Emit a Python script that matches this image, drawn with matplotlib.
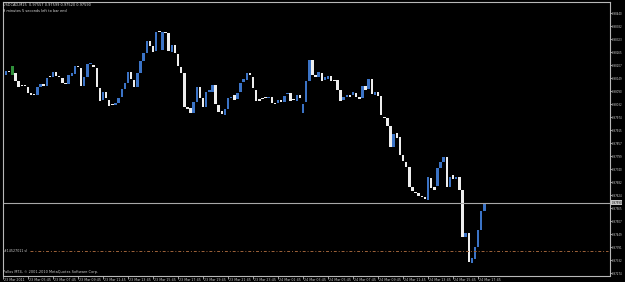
import matplotlib
matplotlib.use("Agg")
import matplotlib.pyplot as plt
import matplotlib.transforms as mtransforms
import numpy as np

# ---- data (USDCAD, M15 candles: open / close) ----
opens = [0.98173, 0.98164, 0.98182, 0.98164, 0.98173, 0.98137, 0.98114, 0.98114, 0.98110, 0.98083,
         0.98078, 0.98074, 0.98110, 0.98123, 0.98114, 0.98155, 0.98155, 0.98177, 0.98155, 0.98150,
         0.98128, 0.98123, 0.98159, 0.98168, 0.98204, 0.98195, 0.98114, 0.98155, 0.98213, 0.98208,
         0.98195, 0.98105, 0.98052, 0.98087, 0.98052, 0.98029, 0.98029, 0.98038, 0.98065, 0.98101,
         0.98128, 0.98177, 0.98141, 0.98110, 0.98173, 0.98226, 0.98262, 0.98316, 0.98294, 0.98271,
         0.98356, 0.98276, 0.98356, 0.98352, 0.98267, 0.98298, 0.98258, 0.98199, 0.98173, 0.98020,
         0.98016, 0.97993, 0.98043, 0.98110, 0.98060, 0.98020, 0.98087, 0.98087, 0.98119, 0.98029,
         0.98002, 0.97984, 0.98011, 0.98060, 0.98074, 0.98056, 0.98087, 0.98132, 0.98141, 0.98173,
         0.98155, 0.98096, 0.98056, 0.98056, 0.98060, 0.98060, 0.98065, 0.98038, 0.98038, 0.98052,
         0.98043, 0.98078, 0.98083, 0.98052, 0.98047, 0.98074, 0.97993, 0.98043, 0.98137, 0.98231,
         0.98164, 0.98155, 0.98173, 0.98141, 0.98146, 0.98159, 0.98141, 0.98141, 0.98096, 0.98052,
         0.98065, 0.98074, 0.98074, 0.98083, 0.98065, 0.98060, 0.98114, 0.98101, 0.98146, 0.98074,
         0.98087, 0.98069, 0.97975, 0.97971, 0.97935, 0.97841, 0.97904, 0.97886, 0.97805, 0.97773,
         0.97751, 0.97661, 0.97639, 0.97634, 0.97621, 0.97616, 0.97603, 0.97702, 0.97661, 0.97666,
         0.97747, 0.97773, 0.97796, 0.97661, 0.97715, 0.97697, 0.97706, 0.97648, 0.97437, 0.97455,
         0.97320, 0.97338, 0.97392, 0.97468, 0.97554]
closes = [0.98155, 0.98182, 0.98177, 0.98204, 0.98137, 0.98110, 0.98114, 0.98114, 0.98083, 0.98074,
          0.98074, 0.98110, 0.98123, 0.98114, 0.98150, 0.98155, 0.98177, 0.98159, 0.98155, 0.98128,
          0.98123, 0.98164, 0.98173, 0.98204, 0.98199, 0.98114, 0.98155, 0.98213, 0.98217, 0.98199,
          0.98110, 0.98047, 0.98087, 0.98060, 0.98025, 0.98029, 0.98038, 0.98060, 0.98101, 0.98128,
          0.98177, 0.98146, 0.98110, 0.98173, 0.98226, 0.98262, 0.98316, 0.98294, 0.98267, 0.98356,
          0.98356, 0.98356, 0.98352, 0.98271, 0.98298, 0.98262, 0.98204, 0.98173, 0.98020, 0.98011,
          0.97993, 0.98043, 0.98110, 0.98060, 0.98020, 0.98087, 0.98096, 0.98119, 0.98034, 0.97998,
          0.97989, 0.98011, 0.98060, 0.98065, 0.98052, 0.98083, 0.98128, 0.98146, 0.98173, 0.98164,
          0.98105, 0.98047, 0.98047, 0.98056, 0.98060, 0.98065, 0.98038, 0.98034, 0.98052, 0.98043,
          0.98069, 0.98083, 0.98047, 0.98052, 0.98074, 0.98060, 0.98034, 0.98137, 0.98231, 0.98164,
          0.98155, 0.98177, 0.98137, 0.98155, 0.98159, 0.98137, 0.98137, 0.98096, 0.98047, 0.98065,
          0.98074, 0.98065, 0.98087, 0.98065, 0.98056, 0.98114, 0.98096, 0.98146, 0.98078, 0.98087,
          0.98069, 0.97984, 0.97971, 0.97935, 0.97841, 0.97899, 0.97881, 0.97805, 0.97778, 0.97751,
          0.97661, 0.97643, 0.97634, 0.97621, 0.97616, 0.97607, 0.97706, 0.97657, 0.97648, 0.97747,
          0.97773, 0.97796, 0.97661, 0.97706, 0.97697, 0.97706, 0.97648, 0.97437, 0.97455, 0.97325,
          0.97343, 0.97392, 0.97468, 0.97554, 0.97590]
highlight_bar = 3  # green bar near the start

time_labels = ["23 Mar 2011", "23 Mar 05:45", "23 Mar 07:45", "23 Mar 09:45", "23 Mar 11:45",
               "23 Mar 13:45", "23 Mar 15:45", "23 Mar 17:45", "23 Mar 19:45", "23 Mar 21:45",
               "23 Mar 23:45", "24 Mar 01:45", "24 Mar 03:45", "24 Mar 05:45", "24 Mar 07:45",
               "24 Mar 09:45", "24 Mar 11:45", "24 Mar 13:45", "24 Mar 15:45", "24 Mar 17:45"]
time_tick_bars = list(range(0, 160, 8))

price_ticks = [0.98440, 0.98382, 0.98323, 0.98265, 0.98207, 0.98149, 0.98090, 0.98032, 0.97974,
               0.97915, 0.97857, 0.97799, 0.97740, 0.97682, 0.97624, 0.97565, 0.97507, 0.97449,
               0.97391, 0.97332, 0.97274]

bid_price = 0.97590
sl_price = 0.97371
sl_label = "#14527011 sl"
title_line1 = "USDCAD,M15  0.97557 0.97599 0.97520 0.97590"
title_line2 = "9 minutes 5 seconds left to bar end"
copyright_text = "Pallos MT4, \u00a9 2001-2010 MetaQuotes Software Corp."

# ---- figure ----
W, H = 625, 282
FS = 2.3
FSY = 1.9
fig = plt.figure(figsize=(W / 100, H / 100), dpi=100, facecolor="black")
ax = fig.add_axes([3 / W, 6.5 / H, 607 / W, 273.5 / H], facecolor="black")

BLUE = "#3b73c6"
WHITE = "#eeeeee"
GREEN = "#2f8f3a"
FRAME = "#b8b8b8"

o = np.array(opens)
c = np.array(closes)
x = np.arange(len(o))
bottom = np.minimum(o, c)
height = np.maximum(np.abs(c - o), 0.00005)
colors = [BLUE if cc > oo else WHITE for oo, cc in zip(o, c)]
colors[highlight_bar] = GREEN
ax.bar(x, height, bottom=bottom, width=0.78, color=colors, linewidth=0)

ax.set_xlim(0.32, 194.2)
ax.set_ylim(0.972631, 0.984906)

# bid line
ax.axhline(bid_price, color="#a8a8a8", lw=0.8)
trans = mtransforms.blended_transform_factory(ax.transAxes, ax.transData)
ax.text(1.0025, bid_price, f"{bid_price:.5f}", transform=trans, fontsize=FSY, color="black",
        va="center", ha="left", clip_on=False,
        bbox=dict(boxstyle="square,pad=0.12", fc="#c8c8c8", ec="#c8c8c8", lw=0))

# stop-loss line
ax.axhline(sl_price, xmin=27 / 607, xmax=0.997, color="#a0643a", lw=0.7, ls=(0, (3, 2, 1, 2)))
ax.text(0.002, sl_price + 0.00003, sl_label, transform=trans, fontsize=FS, color="#d0d0d0",
        va="center", ha="left")

# axes styling
for s in ax.spines.values():
    s.set_color(FRAME)
    s.set_linewidth(0.8)

ax.yaxis.tick_right()
ax.set_yticks(price_ticks)
ax.set_yticklabels([f"{p:.5f}" for p in price_ticks])
ax.tick_params(axis="y", colors=FRAME, labelcolor="#d0d0d0", labelsize=FSY, length=1.2,
               width=0.6, pad=0.4, direction="out")

ax.set_xticks(time_tick_bars)
ax.set_xticklabels(time_labels)
ax.tick_params(axis="x", colors=FRAME, labelcolor="#d0d0d0", labelsize=FS, length=2.0,
               width=0.6, pad=0.0, direction="out")
offset = mtransforms.ScaledTranslation(1.0 / 100, 0, fig.dpi_scale_trans)
for lab in ax.get_xticklabels():
    lab.set_horizontalalignment("left")
    lab.set_transform(lab.get_transform() + offset)

# texts
fig.text(3 / W, 1 - 3 / H, title_line1, fontsize=FS + 0.2, color="#e0e0e0", va="top", ha="left")
fig.text(3 / W, 1 - 9 / H, title_line2, fontsize=FS + 0.2, color="#e0e0e0", va="top", ha="left")
fig.text(3 / W, 1 - 272 / H, copyright_text, fontsize=FS + 0.2, color="#d0d0d0", va="center", ha="left")

fig.savefig("out.png", dpi=100, facecolor="black")
